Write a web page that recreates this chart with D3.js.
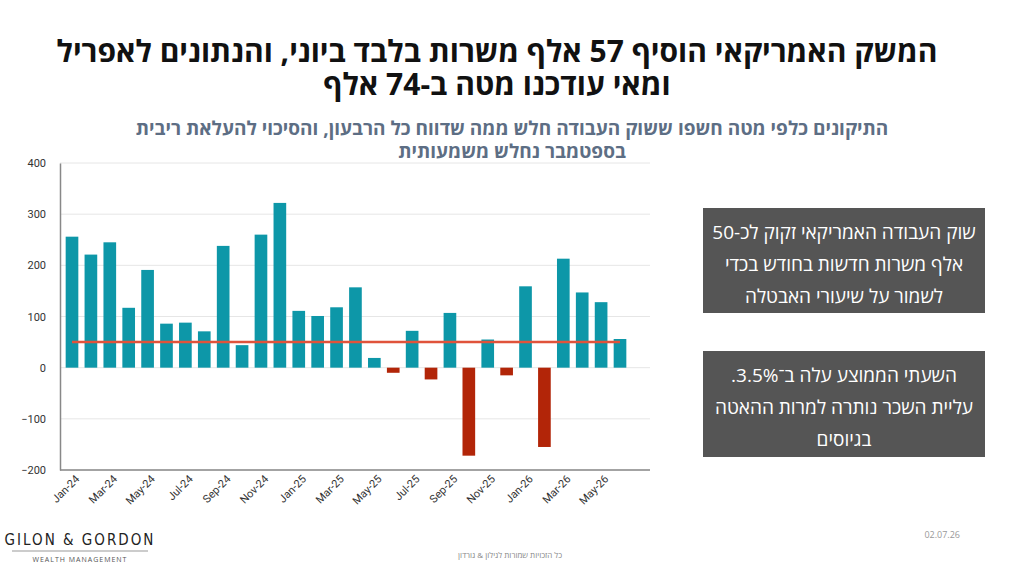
<!DOCTYPE html>
<html><head><meta charset="utf-8">
<script src="https://cdn.jsdelivr.net/npm/d3@7"></script>
<style>body{margin:0;background:#fff;}svg{font-family:"Open Sans",sans-serif;} .rtl{direction:rtl;unicode-bidi:embed;}</style>
</head><body><div id="chart"></div>
<script>
const months = ["Jan-24","Feb-24","Mar-24","Apr-24","May-24","Jun-24","Jul-24","Aug-24","Sep-24","Oct-24","Nov-24","Dec-24",
  "Jan-25","Feb-25","Mar-25","Apr-25","May-25","Jun-25","Jul-25","Aug-25","Sep-25","Oct-25","Nov-25","Dec-25",
  "Jan-26","Feb-26","Mar-26","Apr-26","May-26","Jun-26"];
const jobs = [256,221,245,117,191,86,88,71,238,44,260,322,111,101,118,157,19,-10,72,-23,107,-172,55,-15,159,-155,213,147,128,56];
const threshold = 50;
const yTicks = [-200,-100,0,100,200,300,400];
const titleLines = ["המשק האמריקאי הוסיף 57 אלף משרות בלבד ביוני, והנתונים לאפריל","ומאי עודכנו מטה ב-74 אלף"];
const subLines = ["התיקונים כלפי מטה חשפו ששוק העבודה חלש ממה שדווח כל הרבעון, והסיכוי להעלאת ריבית","בספטמבר נחלש משמעותית"];
const boxes = [["שוק העבודה האמריקאי זקוק לכ-50","אלף משרות חדשות בחודש בכדי","לשמור על שיעורי האבטלה"],
  ["השעתי הממוצע עלה ב־3.5%.","עליית השכר נותרה למרות ההאטה","בגיוסים"]];

const svg = d3.select("#chart").append("svg").attr("width",1024).attr("height",576);

titleLines.forEach((t,i)=>svg.append("text").attr("class","rtl").attr("x",497).attr("y",62+i*33)
  .attr("text-anchor","middle").attr("font-size",30).attr("font-weight",700)
  .attr("fill","#111").text(t));
subLines.forEach((t,i)=>svg.append("text").attr("class","rtl").attr("x",512).attr("y",135+i*23)
  .attr("text-anchor","middle").attr("font-size",19).attr("font-weight",700)
  .attr("fill","#5d6e84").text(t));

const x = d3.scaleBand().domain(months).range([60,632]).paddingInner(0.33).paddingOuter(0.3);
const y = d3.scaleLinear().domain([-200,400]).range([470,163]);

svg.append("g").selectAll("line").data(yTicks).join("line")
  .attr("x1",60).attr("x2",650).attr("y1",d=>y(d)).attr("y2",d=>y(d))
  .attr("stroke","#e6e6e6");

svg.append("g").attr("transform","translate(60,0)")
  .call(d3.axisLeft(y).tickValues(yTicks).tickSize(0).tickPadding(14))
  .call(g=>g.select(".domain").attr("stroke","#888").attr("stroke-width",1.5))
  .call(g=>g.selectAll("text").attr("font-size",11).attr("fill","#333").attr("font-family","Liberation Sans Narrow, Roboto, sans-serif"));

svg.append("line").attr("x1",60).attr("x2",650).attr("y1",y(-200)).attr("y2",y(-200))
  .attr("stroke","#888").attr("stroke-width",1.5);

svg.append("g").selectAll("rect").data(jobs).join("rect")
  .attr("x",(d,i)=>x(months[i])).attr("width",x.bandwidth())
  .attr("y",d=>y(Math.max(0,d))).attr("height",d=>Math.abs(y(d)-y(0)))
  .attr("fill",d=>d<0?"#b22508":"#0d97a8");

svg.append("line").attr("x1",x(months[0])+x.bandwidth()/2).attr("x2",x(months[29])+x.bandwidth()/2)
  .attr("y1",y(threshold)).attr("y2",y(threshold)).attr("stroke","#e0533b").attr("stroke-width",2.5);

svg.append("g").attr("transform",`translate(0,${y(-200)})`)
  .call(d3.axisBottom(x).tickValues(months.filter((m,i)=>i%2===0)).tickSize(0).tickPadding(6))
  .call(g=>g.select(".domain").remove())
  .call(g=>g.selectAll("text").attr("font-size",11).attr("fill","#333")
    .attr("font-family","Liberation Sans Narrow, Roboto, sans-serif")
    .attr("text-anchor","end").attr("dx","-0.1em").attr("dy","0.6em").attr("transform","rotate(-45)"));

[[208,105],[351,106]].forEach(([top,h],k)=>{
  svg.append("rect").attr("x",703).attr("y",top).attr("width",282).attr("height",h).attr("fill","#555");
  boxes[k].forEach((t,i)=>svg.append("text").attr("class","rtl").attr("x",844).attr("y",top+31+i*32)
    .attr("text-anchor","middle").attr("font-size",19)
    .attr("fill","#fff").text(t));
});

// logo + footer
svg.append("text").attr("x",80).attr("y",545).attr("text-anchor","middle").attr("font-size",15)
  .attr("letter-spacing",2).attr("fill","#222").attr("font-family","DejaVu Sans Condensed, sans-serif")
  .text("GILON & GORDON");
svg.append("line").attr("x1",12).attr("x2",148).attr("y1",551).attr("y2",551).attr("stroke","#999");
svg.append("text").attr("x",80).attr("y",562).attr("text-anchor","middle").attr("font-size",7)
  .attr("letter-spacing",1).attr("fill","#555").text("WEALTH MANAGEMENT");
svg.append("text").attr("class","rtl").attr("x",510).attr("y",558).attr("text-anchor","middle")
  .attr("font-size",8).attr("fill","#888").text("כל הזכויות שמורות לגילון & גורדון");
svg.append("text").attr("x",960).attr("y",538).attr("text-anchor","end")
  .attr("font-size",9).attr("fill","#999").text("02.07.26");
</script></body></html>
